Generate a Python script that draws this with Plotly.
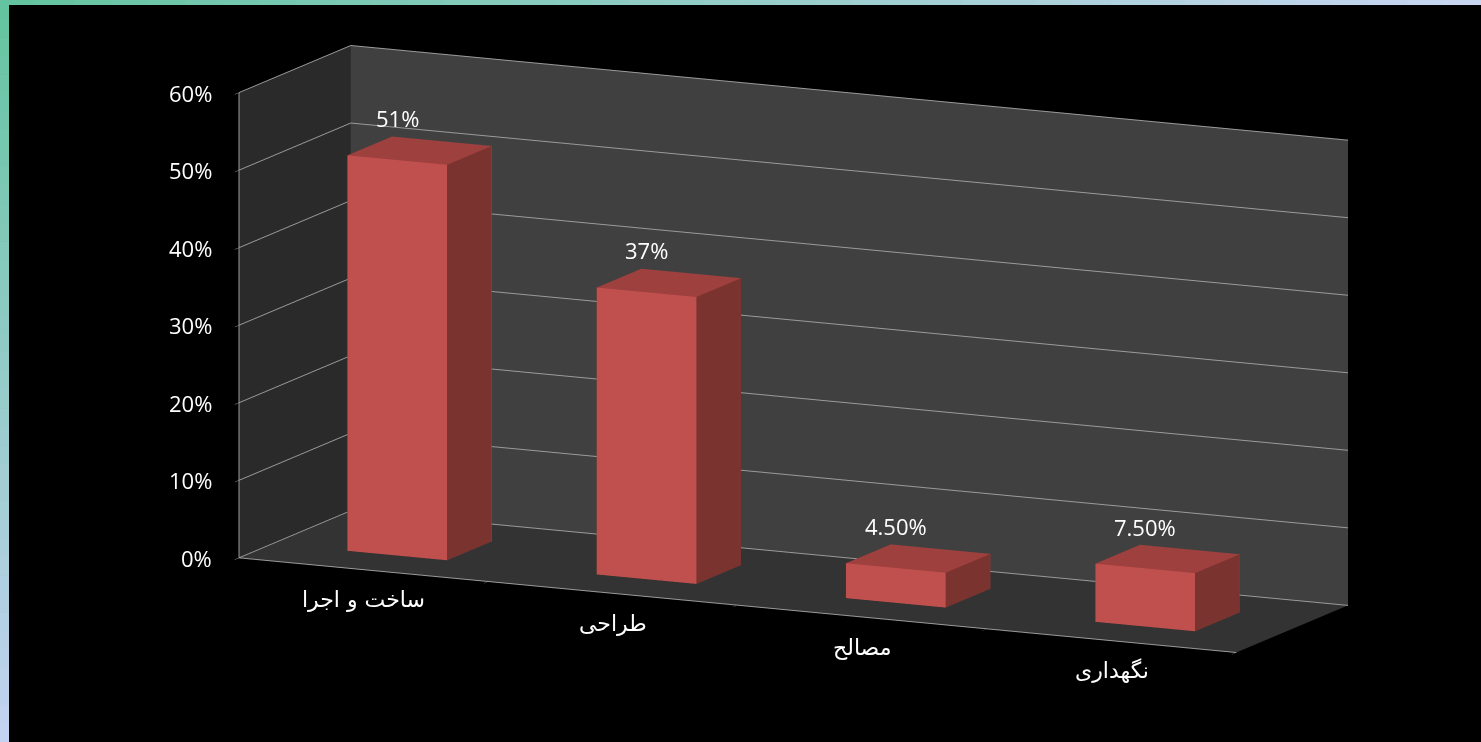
import plotly.graph_objects as go

# Survey shares by category
categories = ["ساخت و اجرا", "طراحی", "مصالح", "نگهداری"]
values = [0.51, 0.37, 0.045, 0.075]
value_labels = ["51%", "37%", "4.50%", "7.50%"]
z_ticks = [0, 0.1, 0.2, 0.3, 0.4, 0.5, 0.6]
z_tick_labels = ["0%", "10%", "20%", "30%", "40%", "50%", "60%"]

W, H = 1481, 742
BAR_W = 0.4      # bar width in category units
BAR_D = 0.4      # bar depth in floor units
FRONT = "#C0504E"
TOP = "#9E403D"
SIDE = "#7B3330"
SCALE = 1.29 * 1.034


def box_mesh(x0, x1, y0, y1, z0, z1):
    xs = [x0, x1, x1, x0, x0, x1, x1, x0]
    ys = [y0, y0, y1, y1, y0, y0, y1, y1]
    zs = [z0, z0, z0, z0, z1, z1, z1, z1]
    faces = [
        ((0, 1, 5), FRONT), ((0, 5, 4), FRONT),   # front (y0)
        ((3, 2, 6), FRONT), ((3, 6, 7), FRONT),   # back (y1)
        ((4, 5, 6), TOP), ((4, 6, 7), TOP),       # top
        ((0, 1, 2), TOP), ((0, 2, 3), TOP),       # bottom
        ((1, 2, 6), SIDE), ((1, 6, 5), SIDE),     # right (x1)
        ((0, 3, 7), SIDE), ((0, 7, 4), SIDE),     # left (x0)
    ]
    return go.Mesh3d(
        x=xs, y=ys, z=zs,
        i=[f[0][0] for f in faces], j=[f[0][1] for f in faces], k=[f[0][2] for f in faces],
        facecolor=[f[1] for f in faces],
        flatshading=True,
        lighting=dict(ambient=1, diffuse=0, specular=0, roughness=1, fresnel=0),
        hoverinfo="skip", showscale=False,
    )


fig = go.Figure()
for idx, v in enumerate(values):
    cx = idx + 0.5
    fig.add_trace(box_mesh(cx - BAR_W / 2, cx + BAR_W / 2,
                           0.5 - BAR_D / 2, 0.5 + BAR_D / 2, 0, v))

num_font = dict(color="white", size=22, family="Open Sans, sans-serif")
fa_font = dict(color="white", size=22, family="DejaVu Sans, sans-serif")

annotations = []
for idx, (v, lab) in enumerate(zip(values, value_labels)):
    annotations.append(dict(x=idx + 0.5, y=0.5 - BAR_D / 2, z=v, text=lab, showarrow=False,
                            yshift=42, font=num_font))
for idx, cat in enumerate(categories):
    annotations.append(dict(x=idx + 0.5, y=0, z=0, text=cat, showarrow=False,
                            xshift=0, yshift=-30, font=fa_font))
for zt, zl in zip(z_ticks, z_tick_labels):
    annotations.append(dict(x=0, y=0, z=zt, text=zl, showarrow=False,
                            xanchor="right", xshift=-25, font=num_font))

fig.update_layout(
    width=W, height=H,
    margin=dict(l=0, r=0, t=0, b=0),
    paper_bgcolor="black",
    showlegend=False,
    scene=dict(
        domain=dict(x=[0.0716, 1.0], y=[0.059, 1.0]),
        aspectmode="manual",
        aspectratio=dict(x=2.28 * SCALE * 1.04, y=0.56 * SCALE, z=1.0 * SCALE * 1.02),
        camera=dict(eye=dict(x=0.84, y=-1.77, z=0.40), center=dict(x=0, y=0, z=0),
                    up=dict(x=0, y=0, z=1), projection=dict(type="orthographic")),
        xaxis=dict(range=[0, 4], tickvals=[0, 1, 2, 3, 4], showticklabels=False,
                   showgrid=False, zeroline=False, showline=True, linecolor="#9a9a9a",
                   linewidth=2, ticks="outside", ticklen=8, tickcolor="#9a9a9a",
                   showbackground=True, backgroundcolor="#2a2a2a",
                   title=dict(text=""), showspikes=False),
        yaxis=dict(range=[0, 1], showticklabels=False, showgrid=False, zeroline=False,
                   showline=False, ticks="", showbackground=True, backgroundcolor="#404040",
                   title=dict(text=""), showspikes=False),
        zaxis=dict(range=[0, 0.6], tickvals=z_ticks, showticklabels=False,
                   showgrid=True, gridcolor="#9a9a9a", gridwidth=2, zeroline=False,
                   showline=True, linecolor="#9a9a9a", linewidth=2, ticks="outside",
                   ticklen=8, tickcolor="#9a9a9a", showbackground=True,
                   backgroundcolor="#333333", title=dict(text=""), showspikes=False),
        annotations=annotations,
    ),
)

# Gradient frame strips along the top and left edges
shapes = []
N = 40
teal = (100, 196, 160)
lav = (200, 214, 242)
lav_left = (195, 210, 240)
for s in range(N):
    t = s / (N - 1)
    c = tuple(round(a + (b - a) * t) for a, b in zip(teal, lav))
    shapes.append(dict(type="rect", xref="paper", yref="paper",
                       x0=s / N, x1=(s + 1) / N + 0.001, y0=1 - 5 / H, y1=1,
                       fillcolor="rgb(%d,%d,%d)" % c, line=dict(width=0), layer="above"))
    c2 = tuple(round(a + (b - a) * t) for a, b in zip(teal, lav_left))
    shapes.append(dict(type="rect", xref="paper", yref="paper",
                       x0=0, x1=9 / W, y0=1 - (s + 1) / N - 0.001, y1=1 - s / N,
                       fillcolor="rgb(%d,%d,%d)" % c2, line=dict(width=0), layer="above"))
fig.update_layout(shapes=shapes)

fig.write_html("out.html", config={"displayModeBar": False})
